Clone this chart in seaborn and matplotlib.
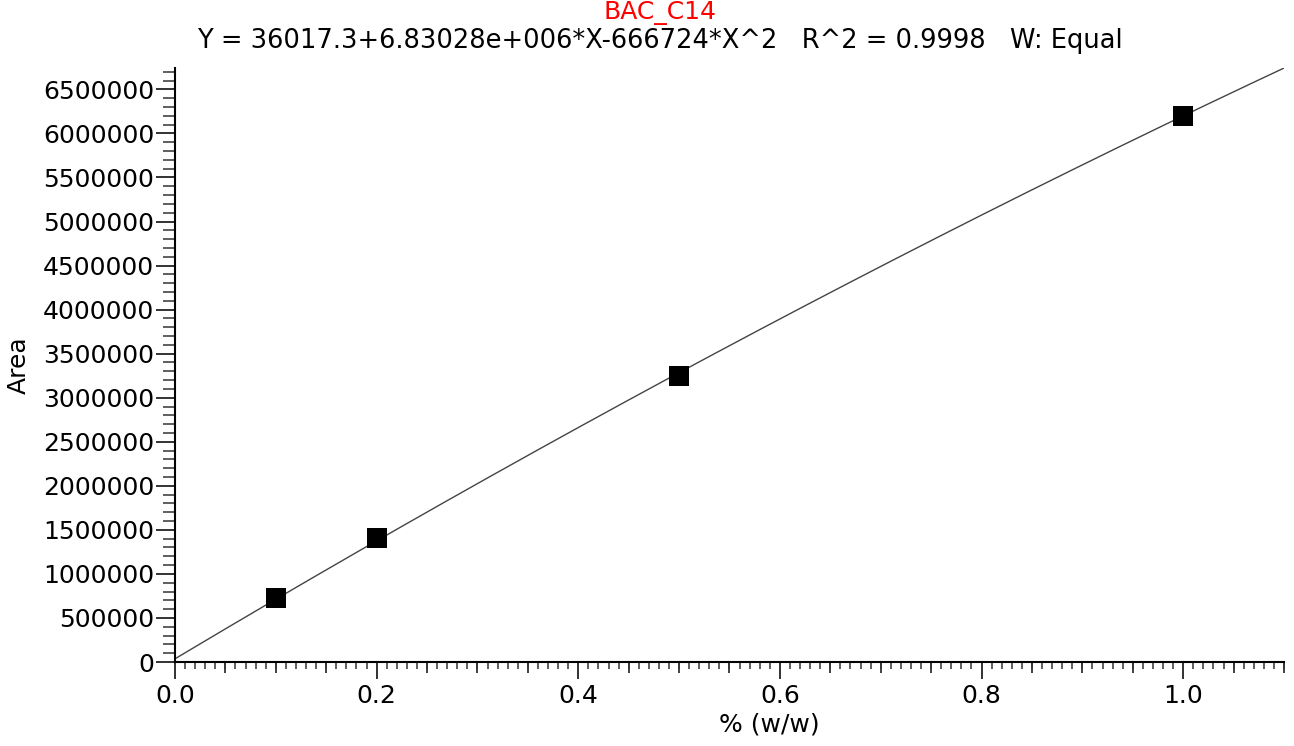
import numpy as np
import pandas as pd
import matplotlib
matplotlib.use("Agg")
import matplotlib.pyplot as plt
import seaborn as sns
from matplotlib.ticker import MultipleLocator, FixedLocator, NullFormatter

# ---- data ----
conc = [0.1, 0.2, 0.5, 1.0]                      # % (w/w)
area = [725000, 1406000, 3245000, 6202000]       # Area
# fit coefficients as stated in the chart title
fit_c0 = 36017.3
fit_c1 = 6.83028e6
fit_c2 = -666724.0
title_name = "BAC_C14"
title_eq = "Y = 36017.3+6.83028e+006*X-666724*X^2   R^2 = 0.9998   W: Equal"
x_label = "% (w/w)"
y_label = "Area"
x_max = 1.1

sns.set_theme(style="white")
plt.rcParams['font.family'] = ['DejaVu Sans']
plt.rcParams['text.color'] = 'black'
plt.rcParams['axes.labelcolor'] = 'black'
plt.rcParams['xtick.color'] = 'black'
plt.rcParams['ytick.color'] = 'black'

fig = plt.figure(figsize=(12.94, 7.46), dpi=100)
ax = fig.add_axes([0.1352, 0.1126, 0.8571, 0.7962])

# fit curve from the stated coefficients
xs = np.linspace(0, x_max, 200)
fit_df = pd.DataFrame({"x": xs, "y": fit_c0 + fit_c1 * xs + fit_c2 * xs ** 2})
sns.lineplot(data=fit_df, x="x", y="y", ax=ax, color="#444444", linewidth=1.0)

pts = pd.DataFrame({"x": conc, "y": area})
sns.scatterplot(data=pts, x="x", y="y", ax=ax, marker="s", s=200,
                color="black", edgecolor="black", linewidth=0, zorder=5)

ax.set_xlim(0, x_max)
ax.set_ylim(0, fit_c0 + fit_c1 * x_max + fit_c2 * x_max ** 2)

for s in ["top", "right"]:
    ax.spines[s].set_visible(False)
for s in ["left", "bottom"]:
    ax.spines[s].set_color("black")
    ax.spines[s].set_linewidth(1.5)

fs = 18
ax.xaxis.set_major_locator(MultipleLocator(0.2))
ax.xaxis.set_minor_locator(MultipleLocator(0.01))
ax.xaxis.set_major_formatter(matplotlib.ticker.FormatStrFormatter("%.1f"))
ax.yaxis.set_major_locator(MultipleLocator(500000))
ax.yaxis.set_minor_locator(MultipleLocator(100000))
ax.yaxis.set_major_formatter(matplotlib.ticker.FuncFormatter(lambda v, p: f"{int(round(v))}"))

ax.tick_params(axis="x", which="major", direction="out", length=12, width=1.3,
               color="#222222", labelsize=fs, labelcolor="black", pad=4, bottom=True)
ax.tick_params(axis="x", which="minor", direction="out", length=5, width=1.1,
               color="#333333", bottom=True)
ax.tick_params(axis="y", which="major", direction="out", length=14, width=1.3,
               color="#222222", labelsize=fs, labelcolor="black", pad=1, left=True)
ax.tick_params(axis="y", which="minor", direction="out", length=8.5, width=1.1,
               color="#333333", left=True)

# medium ticks every 0.05
sec = ax.secondary_xaxis("bottom")
mid = [round(0.05 * k, 2) for k in range(0, 23) if k % 4 != 0]
sec.xaxis.set_major_locator(FixedLocator(mid))
sec.xaxis.set_major_formatter(NullFormatter())
sec.tick_params(axis="x", which="major", direction="out", length=8, width=1.2, color="#222222")
sec.tick_params(axis="x", which="minor", bottom=False)
sec.spines["bottom"].set_visible(False)

ax.set_xlabel(x_label, fontsize=fs, color="black")
ax.set_ylabel(y_label, fontsize=fs, color="black")
ax.xaxis.set_label_coords(0.536, -0.085)
ax.yaxis.set_label_coords(-0.130, 0.5)

fig.text(0.51, 0.998, title_name, color="red", ha="center", va="top", fontsize=18)
fig.text(0.51, 0.962, title_eq, color="black", ha="center", va="top", fontsize=18.5)

fig.savefig("out.png", dpi=100)
